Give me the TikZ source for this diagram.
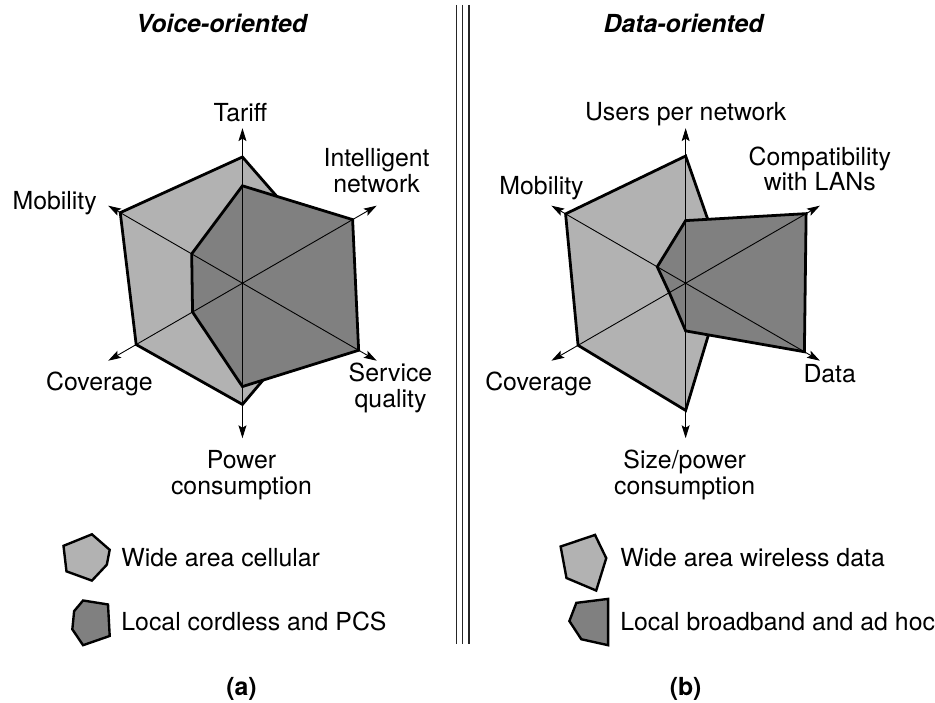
\documentclass[tikz,border=0pt]{standalone}
\usepackage{fontspec}
\setmainfont{TeX Gyre Heros}
\usetikzlibrary{arrows.meta,calc}
\begin{document}
\begin{tikzpicture}[x=1pt,y=-1pt,
  lbl/.style={font=\fontsize{25}{26}\selectfont, inner sep=0pt},
  lblc/.style={font=\fontsize{25}{26}\selectfont, inner sep=0pt, align=center},
  ttl/.style={font=\fontsize{25}{26}\selectfont\bfseries\itshape, inner sep=0pt},
  sub/.style={font=\fontsize{25}{26}\selectfont\bfseries, inner sep=0pt},
  axisline/.style={line width=0.9pt, {Stealth[length=13pt,width=8pt,inset=2.5pt]}-{Stealth[length=13pt,width=8pt,inset=2.5pt]}},
  lightpoly/.style={fill=black!30, draw=black, line width=2.8pt, line join=miter},
  darkpoly/.style={fill=black!50, draw=black, line width=2.8pt, line join=miter},
  iconpoly/.style={draw=black, line width=2.4pt, line join=miter},
  sep/.style={line width=1.2pt, draw=black!85}]
\path (0,0) rectangle (935,707);

% separator
\draw[sep] (459,5) -- (459,648);
\draw[sep] (465.5,5) -- (465.5,648);
\draw[sep] (472,5) -- (472,648);

% centres
\coordinate (CL) at (244,285);
\coordinate (CR) at (690,285);

% axis tips
\foreach \a/\n in {-90/t,-30/in,30/sq,90/b,150/cov,210/mob}{
  \coordinate (L\n) at ($(CL)+(\a:156)$);
  \coordinate (R\n) at ($(CR)+(\a:156)$);
}

% ---------- left chart polygons
\foreach \a/\n/\r in {-90/t/127,-30/in/85,30/sq/80,90/b/122,150/cov/123.5,210/mob/142}
  \coordinate (LA\n) at ($(CL)+(\a:\r)$);
\foreach \a/\n/\r in {-90/t/98,-30/in/128,30/sq/135,90/b/104,150/cov/58,210/mob/59}
  \coordinate (LB\n) at ($(CL)+(\a:\r)$);
\draw[lightpoly] (LAt) -- (LAin) -- (LAsq) -- (LAb) -- (LAcov) -- (LAmob) -- cycle;
\draw[darkpoly] (LBt) -- (LBin) -- (LBsq) -- (LBb) -- (LBcov) -- (LBmob) -- cycle;

% ---------- right chart polygons
\foreach \a/\n/\r in {-90/t/128,-30/in/43,30/sq/38,90/b/128,150/cov/125,210/mob/139.5}
  \coordinate (RA\n) at ($(CR)+(\a:\r)$);
\foreach \a/\n/\r in {-90/t/63,-30/in/140,30/sq/138,90/b/48,150/cov/19,210/mob/33}
  \coordinate (RB\n) at ($(CR)+(\a:\r)$);
\draw[lightpoly] (RAt) -- (RAin) -- (RAsq) -- (RAb) -- (RAcov) -- (RAmob) -- cycle;
\draw[darkpoly] (RBt) -- (RBin) -- (RBsq) -- (RBb) -- (RBcov) -- (RBmob) -- cycle;

% axes
\draw[axisline] (Lt) -- (Lb);
\draw[axisline] (Lin) -- (Lcov);
\draw[axisline] (Lmob) -- (Lsq);
\draw[axisline] (Rt) -- (Rb);
\draw[axisline] (Rin) -- (Rcov);
\draw[axisline] (Rmob) -- (Rsq);

% titles
\node[ttl, anchor=base] (t1) at (223,33) {Voice-oriented};
\node[ttl, anchor=base] (t2) at (688,33) {Data-oriented};

% left labels
\node[lbl, anchor=base] (tariff) at (242,122) {Tariff};
\node[lblc] (intnet) at (379,172) {Intelligent\\network};
\node[lbl, anchor=base] (mob1) at (55,211) {Mobility};
\node[lbl, anchor=base] (cov1) at (100,393) {Coverage};
\node[lblc] (servq) at (393,390) {Service\\quality};
\node[lblc] (power) at (243,478) {Power\\consumption};

% right labels
\node[lbl, anchor=base] (users) at (690,121) {Users per network};
\node[lblc] (compat) at (825,170) {Compatibility\\with LANs};
\node[lbl, anchor=base] (mob2) at (545,196) {Mobility};
\node[lbl, anchor=base] (cov2) at (542,393) {Coverage};
\node[lbl, anchor=base] (data) at (835,385) {Data};
\node[lblc] (sizep) at (689,478) {Size/power\\consumption};

% legend icons
\draw[iconpoly, fill=black!30] (92.5,537.7) -- (110.4,553.3) -- (107.5,568.3) -- (92.5,584.3) -- (66.9,575) -- (63.9,549.3) -- cycle;
\draw[iconpoly, fill=black!50] (83.6,604.3) -- (108.7,608.3) -- (110.4,640) -- (83.6,649.3) -- (72.8,633.3) -- (74.6,615) -- cycle;
\draw[iconpoly, fill=black!30] (598.8,538.3) -- (610.1,561.7) -- (600,594.3) -- (570.1,581.7) -- (564.2,550) -- cycle;
\draw[iconpoly, fill=black!50] (612,602.7) -- (612,649.3) -- (585,643.3) -- (573,625) -- (580,606.7) -- cycle;

% legend texts
\node[lbl, anchor=base west] (leg1) at (122,570) {Wide area cellular};
\node[lbl, anchor=base west] (leg2) at (122,635) {Local cordless and PCS};
\node[lbl, anchor=base west] (leg3) at (624,570) {Wide area wireless data};
\node[lbl, anchor=base west] (leg4) at (624,635) {Local broadband and ad hoc};

% sub-captions
\node[sub] (capa) at (243,693) {(a)};
\node[sub] (capb) at (690,693) {(b)};
\end{tikzpicture}
\end{document}
